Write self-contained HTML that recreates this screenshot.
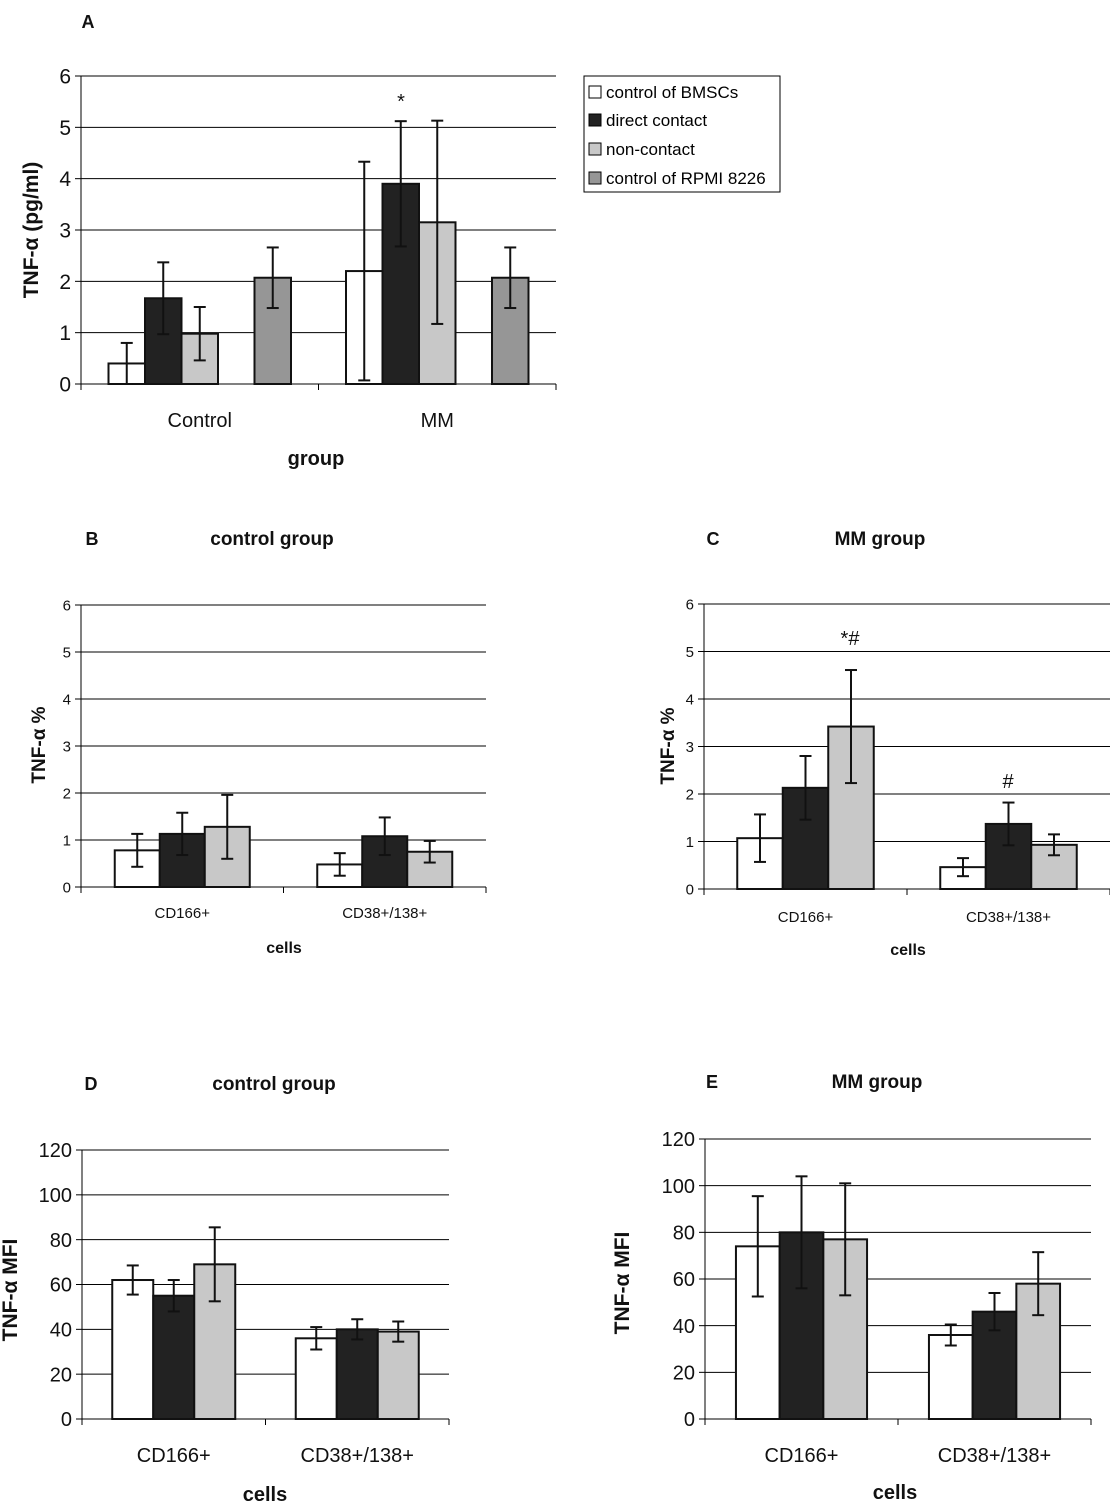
<!DOCTYPE html>
<html><head><meta charset="utf-8"><style>
html,body{margin:0;padding:0;background:#fff;}
svg{display:block;font-family:"Liberation Sans",Arial,sans-serif;}
</style></head><body>
<svg id="fig" width="1110" height="1502" viewBox="0 0 1110 1502" xmlns="http://www.w3.org/2000/svg">
<g>
<rect x="584" y="76" width="196" height="116" fill="#fff" stroke="#000" stroke-width="1"/>
<rect x="589" y="86" width="12" height="12" fill="#fff" stroke="#000"/><text x="606" y="98" font-size="17">control of BMSCs</text>
<rect x="589" y="114" width="12" height="12" fill="#222" stroke="#000"/><text x="606" y="126" font-size="17">direct contact</text>
<rect x="589" y="143" width="12" height="12" fill="#c8c8c8" stroke="#000"/><text x="606" y="155" font-size="17">non-contact</text>
<rect x="589" y="172" width="12" height="12" fill="#969696" stroke="#000"/><text x="606" y="184" font-size="17">control of RPMI 8226</text>
</g>
</svg>
<script>
// Panel A data
const catsA = ["Control","MM"];
const whiteA = [0.4, 2.2];   const whiteErrA = [0.4, 2.13];
const blackA = [1.67, 3.9];  const blackErrA = [0.7, 1.22];
const lightA = [0.98, 3.15]; const lightErrA = [0.52, 1.98];
const darkA = [2.07, 2.07];  const darkErrA = [0.59, 0.59];
const ticksA = [0,1,2,3,4,5,6];
// Panel B
const catsB = ["CD166+","CD38+/138+"];
const whiteB = [0.78, 0.48]; const whiteErrB = [0.35, 0.24];
const blackB = [1.13, 1.08]; const blackErrB = [0.45, 0.4];
const lightB = [1.28, 0.75]; const lightErrB = [0.68, 0.23];
const ticksB = [0,1,2,3,4,5,6];
// Panel C
const whiteC = [1.07, 0.46]; const whiteErrC = [0.5, 0.19];
const blackC = [2.13, 1.37]; const blackErrC = [0.67, 0.45];
const lightC = [3.42, 0.93]; const lightErrC = [1.19, 0.22];
// Panel D
const whiteD = [62, 36]; const whiteErrD = [6.5, 5];
const blackD = [55, 40]; const blackErrD = [7, 4.5];
const lightD = [69, 39]; const lightErrD = [16.5, 4.5];
const ticksD = [0,20,40,60,80,100,120];
// Panel E
const whiteE = [74, 36]; const whiteErrE = [21.5, 4.5];
const blackE = [80, 46]; const blackErrE = [24, 8];
const lightE = [77, 58]; const lightErrE = [24, 13.5];

const NS="http://www.w3.org/2000/svg";
const svg=document.getElementById('fig');
function mk(tag,attrs,parent){const e=document.createElementNS(NS,tag);for(const k in attrs)e.setAttribute(k,attrs[k]);(parent||svg).appendChild(e);return e;}
function txt(s,x,y,size,bold,parent,anchor){const t=mk('text',{x:x,y:y,'font-size':size,'text-anchor':anchor||'middle','font-weight':bold?'bold':'normal',fill:'#111'},parent);t.textContent=s;return t;}

function panel(p){
  const g=mk('g',{});
  
  
  const max=p.ticks[p.ticks.length-1];
  const ys=v=>p.y0-(v/max)*(p.y0-p.yTop);
  p.ticks.forEach(t=>{
    const y=ys(t);
    if(t>0){const l=mk('line',{x1:p.x0,x2:p.x1,y1:y,y2:y,stroke:'#000','stroke-width':1},g);
      
      }
    mk('line',{x1:p.x0-6,x2:p.x0,y1:y,y2:y,stroke:'#000'},g);
    const tl=txt(String(t),p.x0-10,y+p.tickSize*0.36,p.tickSize,false,g,'end');
    
    
  });
  mk('line',{x1:p.x0,x2:p.x0,y1:p.yTop,y2:p.y0+6,stroke:'#000'},g);
  mk('line',{x1:p.x0,x2:p.x1,y1:p.y0,y2:p.y0,stroke:'#000'},g);
  const n=p.cats.length, cw=(p.x1-p.x0)/n;
  for(let i=0;i<=n;i++){const x=p.x0+i*cw;mk('line',{x1:x,x2:x,y1:p.y0,y2:p.y0+6,stroke:'#000'},g);}
  p.cats.forEach((c,i)=>{
    const cx=p.x0+cw*(i+0.5);
    const cl=txt(c,cx,p.catY,p.catSize,false,g);
    
    
    const slots=p.slots, start=cx-slots*p.bw/2;
    p.series.forEach(s=>{
      const v=s.vals[i], e=s.errs[i];
      const x=start+s.slot*p.bw;
      const r=mk('rect',{x:x,y:ys(v),width:p.bw,height:p.y0-ys(v),fill:s.fill,stroke:'#111','stroke-width':2},g);
      
      
      const mx=x+p.bw/2, lo=ys(Math.max(0,v-e)), hi=ys(v+e);
      mk('line',{x1:mx,x2:mx,y1:lo,y2:hi,stroke:'#111','stroke-width':2},g);
      mk('line',{x1:mx-6,x2:mx+6,y1:hi,y2:hi,stroke:'#111','stroke-width':2},g);
      mk('line',{x1:mx-6,x2:mx+6,y1:lo,y2:lo,stroke:'#111','stroke-width':2},g);
    });
  });
  const yt=txt(p.yTitle,0,0,p.yTitleSize,true,g);
  yt.setAttribute('transform','translate('+p.yTitleX+','+p.yTitleY+') rotate(-90)');
  
  
  const xt=txt(p.xTitle,p.xTitleX,p.xTitleY,p.xTitleSize,true,g);
  
  
  const pl=txt(p.letter,p.letterX,p.letterY,18,true,g);
  
  
  if(p.title){const pt=txt(p.title,p.titleX,p.letterY,19,true,g);
    
    }
  (p.notes||[]).forEach(nn=>{const a=txt(nn[0],nn[1],nn[2],20,false,g);
    
    });
}
const W='#ffffff',K='#222222',L='#c8c8c8',D='#969696';
panel({name:'panel-a',cats:catsA,ticks:ticksA,x0:81,x1:556,y0:384,yTop:76,bw:36.5,slots:5,
  series:[{key:'bmsc',vals:whiteA,errs:whiteErrA,fill:W,slot:0},{key:'direct',vals:blackA,errs:blackErrA,fill:K,slot:1},
  {key:'noncontact',vals:lightA,errs:lightErrA,fill:L,slot:2},{key:'rpmi',vals:darkA,errs:darkErrA,fill:D,slot:4}],
  tickSize:21,catSize:20,catY:427,yTitle:'TNF-α  (pg/ml)',yTitleSize:21,yTitleX:38,yTitleY:230,
  xTitle:'group',xTitleX:316,xTitleY:465,xTitleSize:20,letter:'A',letterX:88,letterY:28,notes:[['*',401,108]]});
panel({name:'panel-b',cats:catsB,ticks:ticksB,x0:81,x1:486,y0:887,yTop:605,bw:45,slots:3,
  series:[{key:'bmsc',vals:whiteB,errs:whiteErrB,fill:W,slot:0},{key:'direct',vals:blackB,errs:blackErrB,fill:K,slot:1},{key:'noncontact',vals:lightB,errs:lightErrB,fill:L,slot:2}],
  tickSize:15,catSize:15,catY:918,yTitle:'TNF-α %',yTitleSize:19,yTitleX:45,yTitleY:745,
  xTitle:'cells',xTitleX:284,xTitleY:953,xTitleSize:16,letter:'B',letterX:92,letterY:545,title:'control group',titleX:272});
panel({name:'panel-c',cats:catsB,ticks:ticksB,x0:704,x1:1110,y0:889,yTop:604,bw:45.5,slots:3,
  series:[{key:'bmsc',vals:whiteC,errs:whiteErrC,fill:W,slot:0},{key:'direct',vals:blackC,errs:blackErrC,fill:K,slot:1},{key:'noncontact',vals:lightC,errs:lightErrC,fill:L,slot:2}],
  tickSize:15,catSize:15,catY:922,yTitle:'TNF-α %',yTitleSize:19,yTitleX:674,yTitleY:746,
  xTitle:'cells',xTitleX:908,xTitleY:955,xTitleSize:16,letter:'C',letterX:713,letterY:545,title:'MM group',titleX:880,
  notes:[['*#',850,645],['#',1008,788]]});
panel({name:'panel-d',cats:catsB,ticks:ticksD,x0:82,x1:449,y0:1419,yTop:1150,bw:41,slots:3,
  series:[{key:'bmsc',vals:whiteD,errs:whiteErrD,fill:W,slot:0},{key:'direct',vals:blackD,errs:blackErrD,fill:K,slot:1},{key:'noncontact',vals:lightD,errs:lightErrD,fill:L,slot:2}],
  tickSize:20,catSize:20,catY:1462,yTitle:'TNF-α MFI',yTitleSize:21,yTitleX:17,yTitleY:1290,
  xTitle:'cells',xTitleX:265,xTitleY:1501,xTitleSize:20,letter:'D',letterX:91,letterY:1090,title:'control group',titleX:274});
panel({name:'panel-e',cats:catsB,ticks:ticksD,x0:705,x1:1091,y0:1419,yTop:1139,bw:43.7,slots:3,
  series:[{key:'bmsc',vals:whiteE,errs:whiteErrE,fill:W,slot:0},{key:'direct',vals:blackE,errs:blackErrE,fill:K,slot:1},{key:'noncontact',vals:lightE,errs:lightErrE,fill:L,slot:2}],
  tickSize:20,catSize:20,catY:1462,yTitle:'TNF-α MFI',yTitleSize:21,yTitleX:629,yTitleY:1283,
  xTitle:'cells',xTitleX:895,xTitleY:1499,xTitleSize:20,letter:'E',letterX:712,letterY:1088,title:'MM group',titleX:877});
</script>
</body></html>
